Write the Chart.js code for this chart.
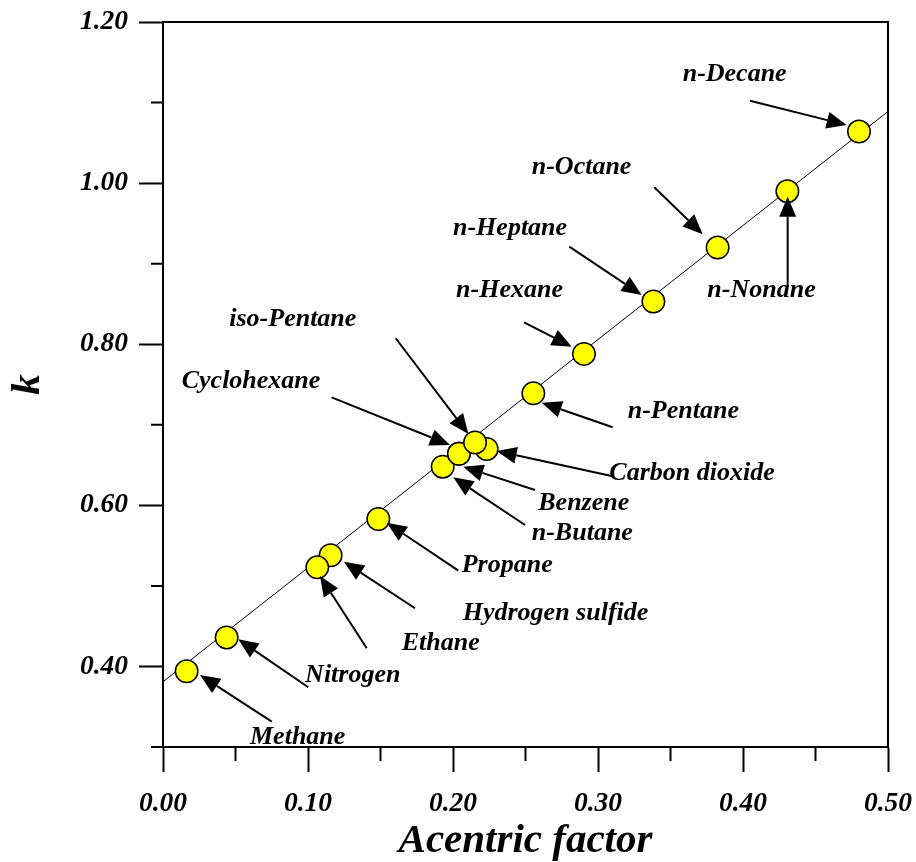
<!DOCTYPE html>
<html>
<head>
<meta charset="utf-8">
<script src="https://cdn.jsdelivr.net/npm/chart.js@4.4.1/dist/chart.umd.min.js"></script>
<style>
  html, body { margin: 0; padding: 0; background: #fff; }
  canvas { display: block; }
</style>
</head>
<body>
<canvas id="chart" width="916" height="862"></canvas>
<script>
// components, in drawing order (later ones sit on top)
var names = ['Methane', 'Nitrogen', 'Hydrogen sulfide', 'Ethane', 'Propane', 'n-Butane',
             'Carbon dioxide', 'Cyclohexane', 'Benzene', 'iso-Pentane', 'n-Pentane',
             'n-Hexane', 'n-Heptane', 'n-Octane', 'n-Nonane', 'n-Decane'];
var omega = [0.0163, 0.0439, 0.1156, 0.1064, 0.1485, 0.1929,
             0.2232, 0.2041, 0.2041, 0.2152, 0.2554,
             0.2903, 0.3382, 0.3825, 0.4306, 0.4800];
var kValues = [0.394, 0.436, 0.538, 0.523, 0.583, 0.648,
               0.670, 0.664, 0.664, 0.678, 0.739,
               0.788, 0.853, 0.920, 0.990, 1.064];

// correlation line
var fitOmega = [0.0, 0.5];
var fitK = [0.381, 1.089];

var xTicks = [0.0, 0.1, 0.2, 0.3, 0.4, 0.5];
var xMinor = [0.05, 0.15, 0.25, 0.35, 0.45];
var yTicks = [0.4, 0.6, 0.8, 1.0, 1.2];
var yMinor = [0.3, 0.5, 0.7, 0.9, 1.1];

// label text anchor (left, middle) and arrow tail -> tip, in axis units
var notes = [
  {t: 'Methane',          at: [0.060, 0.3125], from: [0.0750, 0.3315], to: [0.0255, 0.3894]},
  {t: 'Nitrogen',         at: [0.098, 0.3894], from: [0.1002, 0.3742], to: [0.0519, 0.4337]},
  {t: 'Hydrogen sulfide', at: [0.2067, 0.4664], from: [0.1738, 0.4722], to: [0.1248, 0.5301]},
  {t: 'Ethane',           at: [0.1646, 0.4291], from: [0.1405, 0.4226], to: [0.1083, 0.5123]},
  {t: 'Propane',          at: [0.2060, 0.5260], from: [0.2037, 0.5189], to: [0.1543, 0.5785]},
  {t: 'n-Butane',         at: [0.2543, 0.5657], from: [0.2497, 0.5756], to: [0.2002, 0.6348]},
  {t: 'Carbon dioxide',   at: [0.3078, 0.6402], from: [0.3094, 0.6364], to: [0.2301, 0.6675]},
  {t: 'Cyclohexane',      at: [0.0129, 0.7544], from: [0.1163, 0.7341], to: [0.1979, 0.6749]},
  {t: 'Benzene',          at: [0.2588, 0.6029], from: [0.2566, 0.6191], to: [0.2071, 0.6480]},
  {t: 'iso-Pentane',      at: [0.0457, 0.8313], from: [0.1605, 0.8074], to: [0.2106, 0.6886]},
  {t: 'n-Pentane',        at: [0.3205, 0.7171], from: [0.3101, 0.6969], to: [0.2612, 0.7274]},
  {t: 'n-Hexane',         at: [0.2021, 0.8673], from: [0.2490, 0.8272], to: [0.2819, 0.7969]},
  {t: 'n-Heptane',        at: [0.2000, 0.9443], from: [0.2802, 0.9211], to: [0.3301, 0.8611]},
  {t: 'n-Octane',         at: [0.2543, 1.0200], from: [0.3388, 0.9948], to: [0.3722, 0.9365]},
  {t: 'n-Nonane',         at: [0.3754, 0.8673], from: [0.4308, 0.8714], to: [0.4308, 0.9831]},
  {t: 'n-Decane',         at: [0.3584, 1.1355], from: [0.4048, 1.1023], to: [0.4715, 1.0721]}
];

var serif = "'Liberation Serif', 'Times New Roman', serif";

var points = omega.map(function (w, i) { return {x: w, y: kValues[i]}; });
var fitLine = fitOmega.map(function (w, i) { return {x: w, y: fitK[i]}; });

var framePlugin = {
  id: 'frame',
  afterDraw: function (chart) {
    var ctx = chart.ctx, a = chart.chartArea;
    var xs = chart.scales.x, ys = chart.scales.y;
    ctx.save();
    ctx.strokeStyle = '#000';
    ctx.lineWidth = 2;
    ctx.strokeRect(a.left, a.top, a.right - a.left, a.bottom - a.top);
    // minor ticks
    ctx.beginPath();
    xMinor.forEach(function (v) {
      var px = xs.getPixelForValue(v);
      ctx.moveTo(px, a.bottom);
      ctx.lineTo(px, a.bottom + 14);
    });
    yMinor.forEach(function (v) {
      var py = ys.getPixelForValue(v);
      ctx.moveTo(a.left, py);
      ctx.lineTo(a.left - 12, py);
    });
    ctx.stroke();
    ctx.restore();
  }
};

var notesPlugin = {
  id: 'notes',
  afterDatasetsDraw: function (chart) {
    var ctx = chart.ctx;
    var xs = chart.scales.x, ys = chart.scales.y;
    ctx.save();
    ctx.fillStyle = '#000';
    ctx.strokeStyle = '#000';
    ctx.font = 'italic bold 26px ' + serif;
    ctx.textAlign = 'left';
    ctx.textBaseline = 'middle';
    notes.forEach(function (n) {
      ctx.fillText(n.t, xs.getPixelForValue(n.at[0]), ys.getPixelForValue(n.at[1]));
      var x0 = xs.getPixelForValue(n.from[0]), y0 = ys.getPixelForValue(n.from[1]);
      var x1 = xs.getPixelForValue(n.to[0]), y1 = ys.getPixelForValue(n.to[1]);
      var ang = Math.atan2(y1 - y0, x1 - x0);
      var hl = 20, hw = 8.5;
      var bx = x1 - hl * Math.cos(ang), by = y1 - hl * Math.sin(ang);
      ctx.lineWidth = 2;
      ctx.beginPath();
      ctx.moveTo(x0, y0);
      ctx.lineTo(bx, by);
      ctx.stroke();
      ctx.beginPath();
      ctx.moveTo(x1, y1);
      ctx.lineTo(bx + hw * Math.sin(ang), by - hw * Math.cos(ang));
      ctx.lineTo(bx - hw * Math.sin(ang), by + hw * Math.cos(ang));
      ctx.closePath();
      ctx.fill();
    });
    ctx.restore();
  }
};

new Chart(document.getElementById('chart'), {
  type: 'scatter',
  data: {
    datasets: [{
      label: 'k',
      data: points,
      order: 1,
      pointRadius: 11.25,
      pointBackgroundColor: '#ffff00',
      pointBorderColor: '#000',
      pointBorderWidth: 1.5
    }, {
      type: 'line',
      label: 'fit',
      data: fitLine,
      order: 2,
      borderColor: '#000',
      borderWidth: 1,
      pointRadius: 0,
      fill: false
    }]
  },
  options: {
    responsive: false,
    animation: false,
    layout: {padding: {top: 22, right: 28, left: 0, bottom: 0}},
    plugins: {legend: {display: false}, tooltip: {enabled: false}},
    scales: {
      x: {
        type: 'linear', min: 0, max: 0.5,
        afterBuildTicks: function (s) { s.ticks = xTicks.map(function (v) { return {value: v}; }); },
        afterFit: function (s) { s.height = 115; s.paddingLeft = 0; s.paddingRight = 0; },
        grid: {drawOnChartArea: false, drawTicks: true, tickLength: 25, tickWidth: 2, tickColor: '#000'},
        border: {display: true, width: 2, color: '#000'},
        ticks: {
          padding: 15, color: '#000', maxRotation: 0,
          font: {family: serif, size: 27.5, style: 'italic', weight: 'bold'},
          callback: function (v) { return v.toFixed(2); }
        },
        title: {
          display: true, text: 'Acentric factor', color: '#000',
          padding: {top: 0, bottom: 0},
          font: {family: serif, size: 41, style: 'italic', weight: 'bold', lineHeight: 1}
        }
      },
      y: {
        type: 'linear', min: 0.3, max: 1.2,
        afterBuildTicks: function (s) { s.ticks = yTicks.map(function (v) { return {value: v}; }); },
        afterFit: function (s) { s.width = 163; s.paddingTop = 0; s.paddingBottom = 0; },
        grid: {drawOnChartArea: false, drawTicks: true, tickLength: 24, tickWidth: 2, tickColor: '#000'},
        border: {display: true, width: 2, color: '#000'},
        ticks: {
          padding: 11, color: '#000',
          font: {family: serif, size: 27.5, style: 'italic', weight: 'bold'},
          callback: function (v) { return v.toFixed(2); }
        },
        title: {
          display: true, text: 'k', color: '#000',
          padding: {top: 8, bottom: 0},
          font: {family: serif, size: 41, style: 'italic', weight: 'bold', lineHeight: 1}
        }
      }
    }
  },
  plugins: [framePlugin, notesPlugin]
});
</script>
</body>
</html>
